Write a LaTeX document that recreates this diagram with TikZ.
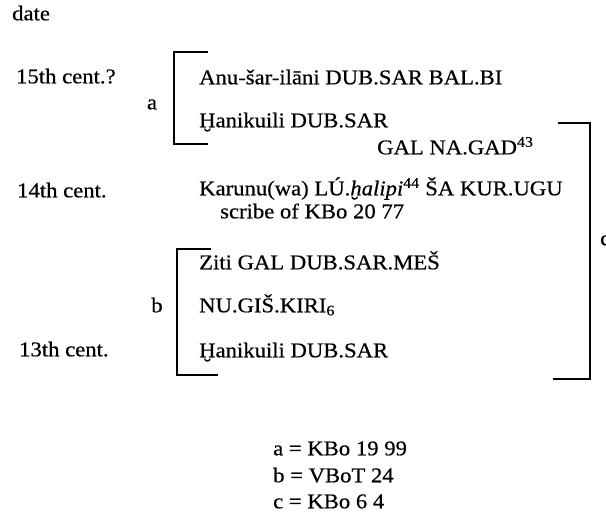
\documentclass[tikz,border=0pt]{standalone}
\usepackage{fontspec}
\setmainfont{Liberation Serif}[FakeStretch=1.08, FakeBold=0.5]
\newcommand{\txtsize}{\fontsize{21}{25}\selectfont}
\tikzset{
  txt/.style={anchor=mid west, inner sep=0pt, font=\txtsize},
  lbl/.style={anchor=mid, inner sep=0pt, font=\txtsize},
  brk/.style={line width=2.3pt, line cap=butt, line join=miter}
}
\begin{document}
\begin{tikzpicture}[x=1pt,y=-1pt]
\useasboundingbox (0,0) rectangle (606,515);
% left column
\node[txt] (date) at (12,18) {date};
\node[txt] (c15) at (16,81) {15th cent.?};
\node[txt] (c14) at (17,195) {14th cent.};
\node[txt] (c13) at (19,354) {13th cent.};
% group a
\node[lbl] (la) at (152,107) {a};
\node[txt] (anu) at (199,82) {Anu-šar-ilāni DUB.SAR BAL.BI};
\node[txt] (han1) at (199,125) {Ḫanikuili DUB.SAR};
\node[txt] (gal) at (377,152) {GAL NA.GAD\textsuperscript{43}};
\node[txt] (kar) at (199,193) {Karunu(wa) LÚ.\textit{ḫalipi}\textsuperscript{44} ŠA KUR.UGU};
\node[txt] (scr) at (220,216) {scribe of KBo 20 77};
% group b
\node[lbl] (lb) at (157,310) {b};
\node[txt] (ziti) at (199,267) {Ziti GAL DUB.SAR.MEŠ};
\node[txt] (nu) at (199,310) {NU.GIŠ.KIRI\textsubscript{6}};
\node[txt] (han2) at (199,355) {Ḫanikuili DUB.SAR};
% c label (cut by the page edge)
\node[txt] (lc) at (600,243) {c};
% brackets
\coordinate (a1) at (208,52);
\coordinate (a2) at (174,52);
\coordinate (a3) at (174,144);
\coordinate (a4) at (208,144);
\draw[brk] (a1) -- (a2) -- (a3) -- (a4);
\coordinate (b1) at (211,249);
\coordinate (b2) at (177,249);
\coordinate (b3) at (177,375);
\coordinate (b4) at (218,375);
\draw[brk] (b1) -- (b2) -- (b3) -- (b4);
\coordinate (c1) at (558,123);
\coordinate (c2) at (590,123);
\coordinate (c3) at (590,379);
\coordinate (c4) at (553,379);
\draw[brk] (c1) -- (c2) -- (c3) -- (c4);
% legend
\node[txt] (ka) at (273,453) {a = KBo 19 99};
\node[txt] (kb) at (273,480) {b = VBoT 24};
\node[txt] (kc) at (273,506) {c = KBo 6 4};
\end{tikzpicture}
\end{document}
